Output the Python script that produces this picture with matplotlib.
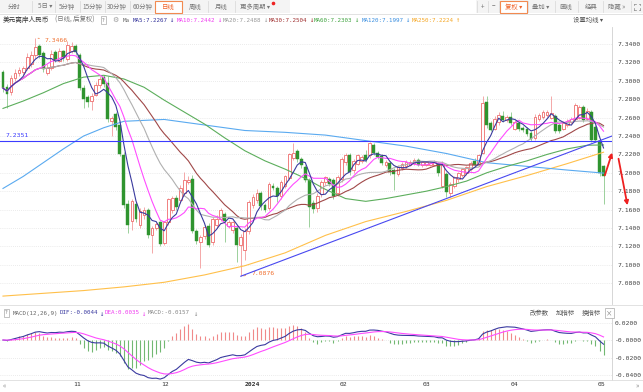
import matplotlib
matplotlib.use('Agg')
import matplotlib.pyplot as plt
import numpy as np
import pandas as pd
from matplotlib.patches import Rectangle, FancyArrowPatch
from matplotlib.lines import Line2D

plt.rcParams['font.family'] = ['Noto Sans CJK SC', 'DejaVu Sans']
MONO = ['DejaVu Sans Mono', 'DejaVu Sans']

W, H = 643, 392

# ---- daily candles, USD/CNH, Oct 2023 - May 2024 ----
opens = [7.310, 7.293, 7.288, 7.303, 7.308, 7.310, 7.314, 7.318, 7.328, 7.338,
         7.330, 7.309, 7.314, 7.331, 7.322, 7.332, 7.324, 7.332, 7.338, 7.328,
         7.292, 7.282, 7.278, 7.285, 7.295, 7.304, 7.298, 7.256, 7.264, 7.252,
         7.219, 7.166, 7.148, 7.166, 7.143, 7.154, 7.160, 7.132, 7.140, 7.146,
         7.124, 7.146, 7.160, 7.173, 7.170, 7.178, 7.190, 7.193, 7.137, 7.125,
         7.131, 7.142, 7.125, 7.143, 7.150, 7.155, 7.142, 7.138, 7.140, 7.122,
         7.116, 7.137, 7.165, 7.170, 7.178, 7.165, 7.162, 7.186, 7.184, 7.175,
         7.186, 7.194, 7.216, 7.224, 7.215, 7.206, 7.192, 7.167, 7.162, 7.177,
         7.190, 7.193, 7.192, 7.178, 7.193, 7.212, 7.219, 7.203, 7.210, 7.213,
         7.219, 7.219, 7.230, 7.222, 7.218, 7.208, 7.211, 7.203, 7.199, 7.205,
         7.207, 7.209, 7.211, 7.214, 7.208, 7.209, 7.209, 7.209, 7.210, 7.186,
         7.199, 7.178, 7.186, 7.193, 7.198, 7.200, 7.204, 7.213, 7.210, 7.222,
         7.277, 7.254, 7.248, 7.255, 7.262, 7.257, 7.261, 7.248, 7.254, 7.249,
         7.248, 7.243, 7.238, 7.258, 7.261, 7.263, 7.260, 7.262, 7.252, 7.248,
         7.252, 7.255, 7.258, 7.260, 7.272, 7.259, 7.266, 7.250, 7.235, 7.207]
highs = [7.312, 7.296, 7.306, 7.313, 7.315, 7.316, 7.330, 7.332, 7.3466, 7.340,
         7.332, 7.318, 7.333, 7.334, 7.336, 7.334, 7.343, 7.342, 7.340, 7.330,
         7.295, 7.285, 7.287, 7.299, 7.305, 7.306, 7.305, 7.262, 7.266, 7.254,
         7.223, 7.170, 7.172, 7.168, 7.162, 7.163, 7.162, 7.142, 7.146, 7.148,
         7.148, 7.173, 7.175, 7.176, 7.187, 7.201, 7.196, 7.198, 7.139, 7.132,
         7.143, 7.145, 7.152, 7.154, 7.162, 7.157, 7.149, 7.148, 7.142, 7.133,
         7.140, 7.170, 7.177, 7.182, 7.180, 7.167, 7.190, 7.189, 7.186, 7.192,
         7.198, 7.222, 7.232, 7.226, 7.217, 7.208, 7.194, 7.170, 7.178, 7.192,
         7.197, 7.195, 7.194, 7.198, 7.217, 7.221, 7.221, 7.215, 7.220, 7.219,
         7.225, 7.234, 7.232, 7.224, 7.220, 7.214, 7.213, 7.205, 7.209, 7.212,
         7.214, 7.214, 7.216, 7.216, 7.213, 7.213, 7.212, 7.214, 7.212, 7.213,
         7.201, 7.190, 7.196, 7.201, 7.205, 7.207, 7.213, 7.216, 7.220, 7.284,
         7.284, 7.256, 7.262, 7.266, 7.267, 7.263, 7.266, 7.257, 7.256, 7.251,
         7.250, 7.245, 7.264, 7.265, 7.268, 7.268, 7.284, 7.264, 7.254, 7.256,
         7.258, 7.261, 7.276, 7.274, 7.274, 7.270, 7.268, 7.252, 7.237, 7.209]
lows = [7.288, 7.270, 7.285, 7.300, 7.305, 7.306, 7.312, 7.315, 7.325, 7.325,
        7.310, 7.306, 7.312, 7.320, 7.320, 7.322, 7.322, 7.330, 7.328, 7.290,
        7.270, 7.272, 7.268, 7.283, 7.292, 7.293, 7.255, 7.240, 7.247, 7.218,
        7.162, 7.135, 7.138, 7.147, 7.140, 7.150, 7.129, 7.113, 7.138, 7.120,
        7.121, 7.143, 7.156, 7.160, 7.167, 7.175, 7.188, 7.135, 7.123, 7.097,
        7.128, 7.119, 7.122, 7.140, 7.148, 7.125, 7.140, 7.135, 7.103, 7.0876,
        7.105, 7.134, 7.162, 7.167, 7.160, 7.157, 7.160, 7.181, 7.168, 7.172,
        7.183, 7.192, 7.214, 7.212, 7.205, 7.190, 7.141, 7.156, 7.157, 7.174,
        7.187, 7.186, 7.172, 7.175, 7.190, 7.209, 7.198, 7.200, 7.208, 7.211,
        7.212, 7.216, 7.219, 7.215, 7.209, 7.206, 7.198, 7.181, 7.196, 7.203,
        7.205, 7.207, 7.209, 7.207, 7.206, 7.207, 7.207, 7.207, 7.197, 7.184,
        7.174, 7.174, 7.183, 7.190, 7.195, 7.198, 7.202, 7.206, 7.207, 7.220,
        7.249, 7.245, 7.246, 7.252, 7.255, 7.255, 7.252, 7.246, 7.245, 7.244,
        7.240, 7.235, 7.236, 7.256, 7.259, 7.261, 7.258, 7.243, 7.243, 7.246,
        7.250, 7.253, 7.256, 7.258, 7.255, 7.257, 7.234, 7.233, 7.196, 7.166]
closes = [7.292, 7.286, 7.303, 7.309, 7.312, 7.314, 7.326, 7.328, 7.337, 7.328,
          7.313, 7.314, 7.329, 7.323, 7.332, 7.325, 7.339, 7.338, 7.331, 7.292,
          7.280, 7.277, 7.284, 7.295, 7.302, 7.296, 7.258, 7.260, 7.250, 7.220,
          7.165, 7.143, 7.169, 7.150, 7.159, 7.160, 7.132, 7.140, 7.144, 7.123,
          7.146, 7.171, 7.173, 7.163, 7.184, 7.192, 7.192, 7.137, 7.126, 7.130,
          7.141, 7.122, 7.150, 7.150, 7.160, 7.148, 7.146, 7.146, 7.121, 7.130,
          7.137, 7.168, 7.174, 7.178, 7.164, 7.160, 7.188, 7.184, 7.175, 7.190,
          7.196, 7.220, 7.221, 7.215, 7.208, 7.192, 7.163, 7.161, 7.175, 7.190,
          7.195, 7.188, 7.175, 7.195, 7.215, 7.219, 7.201, 7.213, 7.219, 7.217,
          7.214, 7.232, 7.221, 7.217, 7.211, 7.212, 7.201, 7.199, 7.206, 7.210,
          7.212, 7.212, 7.214, 7.209, 7.212, 7.212, 7.211, 7.212, 7.200, 7.210,
          7.179, 7.188, 7.195, 7.200, 7.204, 7.206, 7.211, 7.208, 7.219, 7.276,
          7.252, 7.247, 7.259, 7.263, 7.257, 7.261, 7.254, 7.255, 7.248, 7.246,
          7.242, 7.237, 7.261, 7.263, 7.266, 7.266, 7.265, 7.245, 7.245, 7.254,
          7.256, 7.259, 7.274, 7.271, 7.257, 7.267, 7.236, 7.236, 7.200, 7.196]

# long averages (candle index, value)
ma60_idx = [0, 5, 10, 15, 20, 25, 30, 35, 40, 45, 50, 55, 60, 65, 70, 75, 80, 85,
            90, 95, 100, 105, 110, 115, 120, 125, 130, 135, 140, 145, 149]
ma60_val = [7.270, 7.278, 7.287, 7.297, 7.304, 7.306, 7.302, 7.293, 7.279, 7.266,
            7.253, 7.238, 7.224, 7.213, 7.204, 7.194, 7.182, 7.172, 7.169, 7.172,
            7.176, 7.180, 7.185, 7.191, 7.200, 7.207, 7.213, 7.220, 7.226, 7.230,
            7.2303]
ma120_idx = [0, 5, 10, 15, 20, 25, 30, 40, 50, 60, 70, 80, 90, 100, 110, 120, 130,
             140, 149]
ma120_val = [7.183, 7.196, 7.211, 7.226, 7.240, 7.249, 7.256, 7.258, 7.252, 7.246,
             7.244, 7.241, 7.235, 7.229, 7.221, 7.211, 7.207, 7.203, 7.1997]
ma250_idx = [0, 10, 20, 30, 40, 50, 60, 70, 80, 90, 100, 110, 120, 130, 140, 149]
ma250_val = [7.066, 7.069, 7.072, 7.076, 7.081, 7.089, 7.099, 7.113, 7.132, 7.147,
             7.158, 7.170, 7.185, 7.197, 7.210, 7.2224]

month_pos = [18.4, 40.2, 62.0, 84.4, 105.2, 126.8, 148.4]
month_lab = ['11', '12', '2024', '02', '03', '04', '05']
price_ticks = [7.34, 7.32, 7.30, 7.28, 7.26, 7.24, 7.22, 7.20, 7.18, 7.16, 7.14,
               7.12, 7.10, 7.08]
macd_ticks = [0.02, 0.0, -0.02, -0.04]
macd_tick_lab = ['0.0200', '-0.0000', '-0.0200', '-0.0400']

ma_head = [('MA5:7.2267', '↓', '#33339a', 133), ('MA10:7.2442', '↓', '#f03cf0', 177),
           ('MA20:7.2488', '↓', '#999999', 223), ('MA30:7.2504', '↓', '#a03030', 269),
           ('MA60:7.2303', '↓', '#3fa33f', 314), ('MA120:7.1997', '↓', '#3b8fe0', 362),
           ('MA250:7.2224', '↑', '#f5a623', 412)]

RED, RED_W = '#ee6b6b', '#f29a9a'
GRN, GRN_W = '#2f942f', '#8cc98c'

s = pd.Series(closes)
ma5 = s.rolling(5, min_periods=1).mean()
ma10 = s.rolling(10, min_periods=1).mean()
ma20 = s.rolling(20, min_periods=1).mean()
ma30 = s.rolling(30, min_periods=1).mean()
dif = s.ewm(span=12, adjust=False).mean() - s.ewm(span=26, adjust=False).mean()
dea = dif.ewm(span=9, adjust=False).mean()
hist = 2 * (dif - dea)
n = len(closes)
xs = np.arange(n)


def fx(x):
    return x / W


def fy(y):
    return 1 - y / H


fig = plt.figure(figsize=(W / 100, H / 100), dpi=100)
fig.patch.set_facecolor('white')


def ftext(x, y, t, **kw):
    kw.setdefault('va', 'center')
    kw.setdefault('fontsize', 4.8)
    fig.text(fx(x), fy(y), t, **kw)


def frect(x, y, w, h, **kw):
    fig.add_artist(Rectangle((fx(x), fy(y + h)), w / W, h / H,
                             transform=fig.transFigure, **kw))


def fline(x0, y0, x1, y1, **kw):
    fig.add_artist(Line2D([fx(x0), fx(x1)], [fy(y0), fy(y1)],
                          transform=fig.transFigure, **kw))


# ---- main price panel ----
ax = fig.add_axes([0, fy(304), fx(612), (304 - 27) / H])
ax.set_xlim(-0.74, 151.1)
ax.set_ylim(7.0574, 7.3585)
for v in price_ticks:
    ax.axhline(v, color='#d8d8d8', lw=0.5, ls=(0, (1, 2)), zorder=0)

for i in range(n):
    o, h, l, c = opens[i], highs[i], lows[i], closes[i]
    b0, b1 = min(o, c), max(o, c)
    if b1 - b0 < 0.0006:
        b1 = b0 + 0.0006
    if c >= o:
        ax.vlines(i, b1, h, color=RED_W, lw=0.6, zorder=2)
        ax.vlines(i, l, b0, color=RED_W, lw=0.6, zorder=2)
        ax.add_patch(Rectangle((i - 0.34, b0), 0.68, b1 - b0, facecolor='white',
                               edgecolor=RED, lw=0.6, zorder=3))
    else:
        ax.vlines(i, l, h, color=GRN_W, lw=0.6, zorder=2)
        ax.add_patch(Rectangle((i - 0.36, b0), 0.72, b1 - b0, facecolor=GRN,
                               edgecolor=GRN, lw=0.3, zorder=3))

ax.plot(ma250_idx, ma250_val, color='#ffc04a', lw=0.8, zorder=4)
ax.plot(ma120_idx, ma120_val, color='#5aaaf0', lw=0.8, zorder=4)
ax.plot(ma60_idx, ma60_val, color='#5cae5c', lw=0.8, zorder=4)
ax.plot(xs, ma30, color='#a04848', lw=0.8, zorder=4)
ax.plot(xs, ma20, color='#b0b0b0', lw=0.8, zorder=4)
ax.plot(xs, ma10, color='#ff4cff', lw=0.8, zorder=4)
ax.plot(xs, ma5, color='#3a3a9e', lw=0.8, zorder=5)

# drawn lines: support level and rising trendline
ax.axhline(7.2351, color='#3c3cff', lw=0.8, zorder=5)
ax.text(0.6, 7.2385, '7.2351', color='#3c3cff', fontsize=4.6, family=MONO)
ax.plot([59, 151.1], [7.0876, 7.240], color='#4848f0', lw=0.8, zorder=5)

ax.annotate('7.3466', xy=(8, 7.3466), xytext=(10.4, 7.3443), color='#f07030',
            fontsize=4.6, family=MONO, va='center',
            arrowprops=dict(arrowstyle='-', color='#f07030', lw=0.5))
ax.annotate('7.0876', xy=(59, 7.0876), xytext=(61.6, 7.0905), color='#f07030',
            fontsize=4.6, family=MONO, va='center',
            arrowprops=dict(arrowstyle='-', color='#f07030', lw=0.5))

ax.yaxis.tick_right()
ax.set_yticks(price_ticks)
ax.set_yticklabels([f'{v:.4f}' for v in price_ticks], fontsize=4.6,
                   family=MONO, color='#444444')
ax.tick_params(axis='y', length=0, pad=4)
ax.tick_params(axis='x', bottom=False, labelbottom=False)
for side in ['top', 'left', 'bottom']:
    ax.spines[side].set_visible(False)
ax.spines['right'].set_color('#d0d0d0')
ax.spines['right'].set_linewidth(0.6)

# ---- MACD panel ----
ax2 = fig.add_axes([0, fy(380), fx(612), (380 - 308) / H], sharex=ax)
ax2.set_ylim(-0.0457, 0.0366)
for v in macd_ticks:
    ax2.axhline(v, color='#d8d8d8', lw=0.5, ls=(0, (1, 2)), zorder=0)
ax2.vlines(xs, 0, hist, colors=np.where(hist >= 0, '#f08a8a', '#72b872'),
           lw=0.8, zorder=2)
ax2.plot(xs, dif, color='#3a3aa0', lw=0.8, zorder=3)
ax2.plot(xs, dea, color='#ff4cff', lw=0.8, zorder=3)
ax2.yaxis.tick_right()
ax2.set_yticks(macd_ticks)
ax2.set_yticklabels(macd_tick_lab, fontsize=4.6, family=MONO, color='#444444')
ax2.tick_params(axis='y', length=0, pad=2)
ax2.set_xticks(month_pos)
ax2.set_xticklabels(month_lab, fontsize=4.6, family=MONO, color='#333333')
ax2.get_xticklabels()[2].set_fontweight('bold')
ax2.tick_params(axis='x', length=0, pad=1.5)
for side in ['top', 'left', 'bottom']:
    ax2.spines[side].set_visible(False)
ax2.spines['right'].set_color('#d0d0d0')
ax2.spines['right'].set_linewidth(0.6)

# ---- frame lines ----
fline(0, 13.5, 643, 13.5, color='#dddddd', lw=0.6)
fline(0, 305, 643, 305, color='#dddddd', lw=0.6)
fline(0, 380, 643, 380, color='#dddddd', lw=0.6)

# ---- toolbar ----
frect(0, 0, 290, 13, facecolor='#f4f4f4', edgecolor='none')
frect(476, 0, 167, 13, facecolor='#f4f4f4', edgecolor='none')
for x in [32, 55, 80, 105, 130, 208, 235, 477, 488, 499, 528, 555, 578, 603, 631]:
    fline(x, 1, x, 12, color='#dcdcdc', lw=0.6)
frect(155, 0.5, 27, 12.5, facecolor='white', edgecolor='#f28a50', lw=0.8)
frect(500, 0.5, 27, 12.5, facecolor='white', edgecolor='#f28a50', lw=0.8)
tabs = [('分时', 14), ('5日 ▾', 45), ('5分钟', 67), ('15分钟', 92), ('30分钟', 117),
        ('60分钟', 143), ('周线', 195), ('月线', 221), ('更多周期 ▾', 255),
        ('+', 483), ('−', 494), ('叠加 ▾', 541), ('画线', 566), ('经典', 591),
        ('隐藏 »', 617)]
for t, x in tabs:
    ftext(x, 6.5, t, ha='center', color='#777777', fontsize=4.6)
ftext(168.5, 6.5, '日线', ha='center', color='#f0642a', fontsize=4.6)
ftext(513.5, 6.5, '复权 ▾', ha='center', color='#f0642a', fontsize=4.6)
fig.add_artist(Line2D([fx(272.5)], [fy(3)], marker='o', ms=1.6, color='#ee2222',
                      transform=fig.transFigure))
for dx, dy in [(-1, -1), (1, -1), (-1, 1), (1, 1)]:
    fline(637 + dx * 3, 6.5 + dy * 3, 637 + dx * 1.5, 6.5 + dy * 3,
          color='#888888', lw=0.5)
    fline(637 + dx * 3, 6.5 + dy * 3, 637 + dx * 3, 6.5 + dy * 1.5,
          color='#888888', lw=0.5)

# ---- price header ----
ftext(3, 20, '美元离岸人民币', color='#333333', fontsize=4.8)
ftext(55, 20, '(日线, 后复权)', color='#777777', fontsize=4.6)
ftext(103.5, 20, '?', ha='center', color='#777777', fontsize=4.2,
      bbox=dict(boxstyle='square,pad=0.25', fc='white', ec='#aaaaaa', lw=0.5))
ftext(115, 20, '⚙', ha='center', color='#999999', fontsize=5)
ftext(123, 20, 'Ma', color='#666666', fontsize=4.2, family=MONO)
for lab, arr, col, x in ma_head:
    ftext(x, 20, lab, color=col, fontsize=4.2, family=MONO)
    ftext(x + len(lab) * 3.42 + 2, 20.5, arr, color=col, fontsize=5, family=MONO)
ftext(573, 20, '设置均线 ▾', color='#555555', fontsize=4.6)

# ---- MACD header ----
ftext(6.5, 313, '?', ha='center', color='#777777', fontsize=4.2,
      bbox=dict(boxstyle='square,pad=0.25', fc='white', ec='#aaaaaa', lw=0.5))
ftext(13, 313, 'MACD(12,26,9)', color='#666666', fontsize=4.2, family=MONO)
ftext(60, 313, 'DIF:-0.0044', color='#3a3aa0', fontsize=4.2, family=MONO)
ftext(99, 313.5, '↓', color='#3a3aa0', fontsize=5, family=MONO)
ftext(105, 313, 'DEA:0.0035', color='#f03cf0', fontsize=4.2, family=MONO)
ftext(141, 313.5, '↓', color='#f03cf0', fontsize=5, family=MONO)
ftext(148, 313, 'MACD:-0.0157', color='#888888', fontsize=4.2, family=MONO)
ftext(193, 313.5, '↓', color='#888888', fontsize=5, family=MONO)
ftext(530, 313, '改参数', color='#555555', fontsize=4.6)
ftext(556, 313, '加指标', color='#555555', fontsize=4.6)
ftext(582, 313, '换指标', color='#555555', fontsize=4.6)
ftext(609.5, 313, '×', ha='center', color='#777777', fontsize=4.6,
      bbox=dict(boxstyle='square,pad=0.2', fc='white', ec='#aaaaaa', lw=0.5))

# scroll buttons
ftext(4, 385.5, '«', ha='center', color='#888888', fontsize=5)
ftext(637, 385.5, '»', ha='center', color='#888888', fontsize=5)

# ---- red hand-drawn arrows ----
for (x0, y0), (x1, y1) in [((604, 178), (613, 150)), ((618, 156), (628, 208))]:
    fig.add_artist(FancyArrowPatch((fx(x0), fy(y0)), (fx(x1), fy(y1)),
                                   transform=fig.transFigure, arrowstyle='-|>',
                                   mutation_scale=6, color='#ee2020', lw=1.3))

fig.savefig('out.png', dpi=100)
